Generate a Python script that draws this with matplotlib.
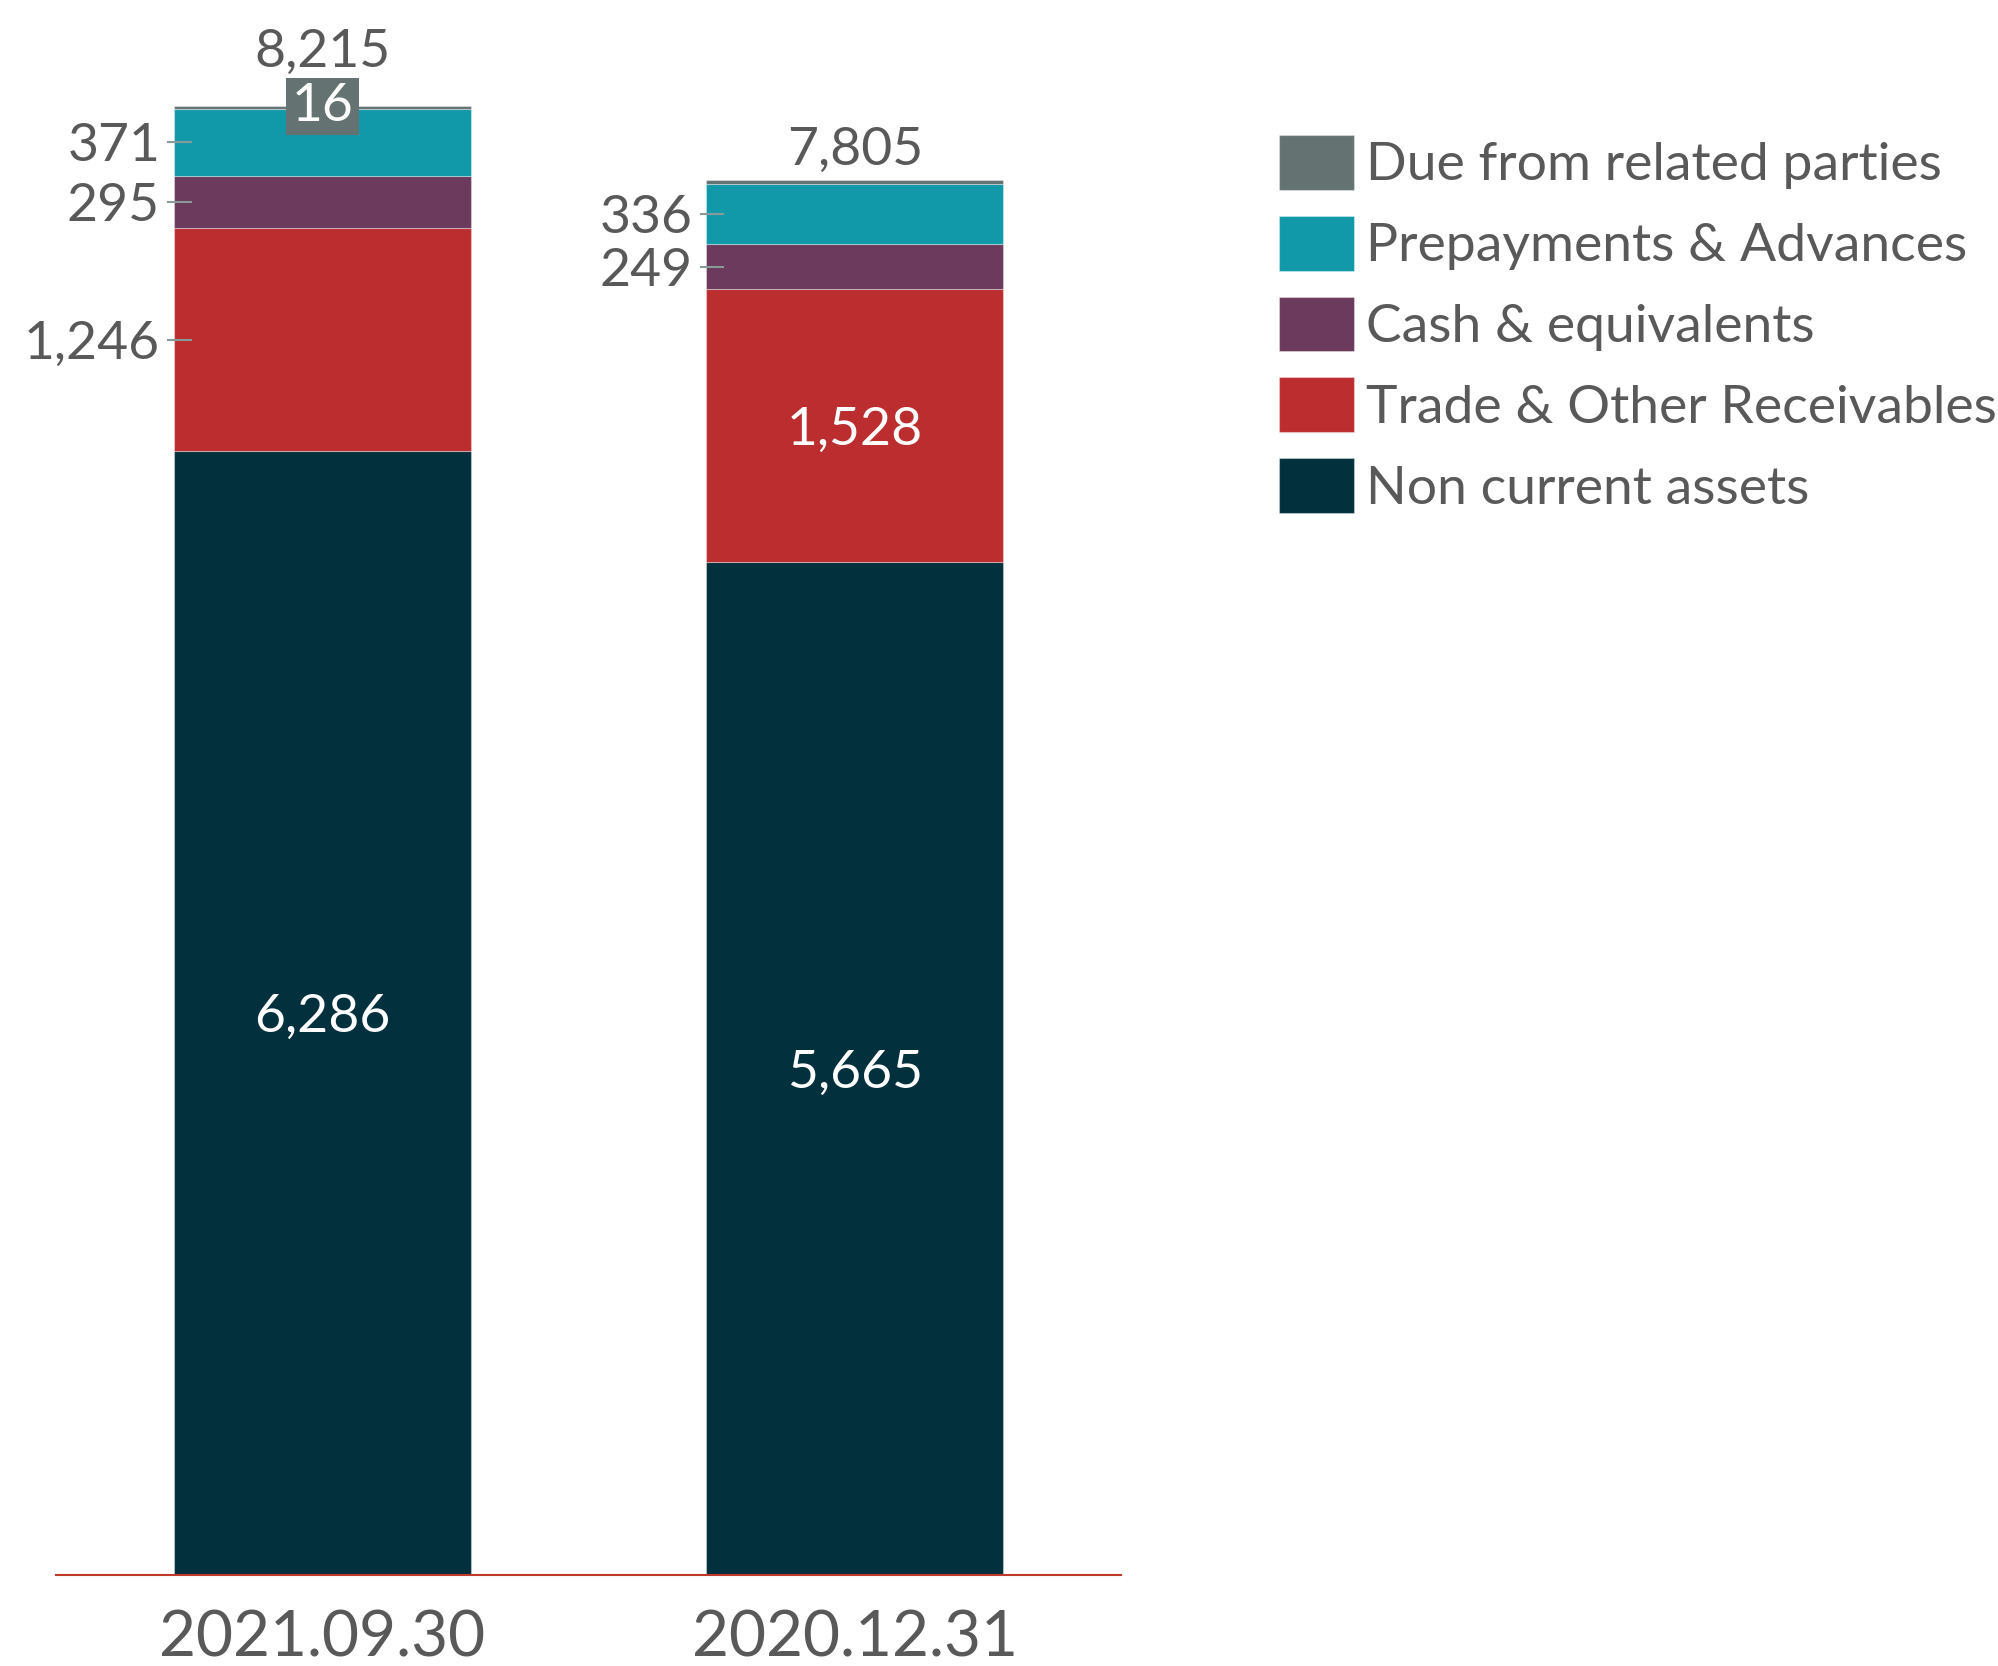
import matplotlib
matplotlib.use("Agg")
import matplotlib.pyplot as plt
import numpy as np

plt.rcParams['font.family'] = ['Lato', 'DejaVu Sans']

categories = ["2021.09.30", "2020.12.31"]
series_names = ["Non current assets", "Trade & Other Receivables", "Cash & equivalents",
                "Prepayments & Advances", "Due from related parties"]
non_current = [6286, 5665]
trade = [1246, 1528]
cash = [295, 249]
prepay = [371, 336]
due = [16, 27]
totals = [8215, 7805]

colors = ["#02303C", "#BB2D2E", "#6B3A5C", "#1199AA", "#647372"]
TXT = "#595959"

fig = plt.figure(figsize=(19.98, 16.66), dpi=100)
ax = fig.add_axes([56/1998, 91/1666, 1065/1998, 1573.4/1666])

x = np.arange(len(categories))
width = 0.557
series = [non_current, trade, cash, prepay, due]
bottoms = np.zeros(len(categories))
bars = []
for vals, name, col in zip(series, series_names, colors):
    b = ax.bar(x, vals, width, bottom=bottoms, color=col, label=name,
               edgecolor=(1, 1, 1, 0.35), linewidth=0.8)
    bars.append((b, np.array(vals, float), bottoms.copy()))
    bottoms = bottoms + np.array(vals, float)

ax.set_xlim(-0.5, 1.5)
ax.set_ylim(0, 8800)

FS = 38.5

modes = {
    0: ['in', 'in'],
    1: ['left', 'in'],
    2: ['left', 'left'],
    3: ['left', 'left'],
    4: ['box', None],
}
for si, (b, vals, bots) in enumerate(bars):
    for i in range(len(categories)):
        m = modes[si][i]
        if m is None:
            continue
        v = vals[i]
        yc = bots[i] + v / 2
        lab = f"{int(v):,}"
        if m == 'in':
            ax.text(x[i], yc, lab, ha='center', va='center_baseline', color='white', fontsize=FS)
        elif m == 'left':
            xl = x[i] - width / 2
            ax.plot([xl - 0.011, xl + 0.032], [yc, yc], color="#8a9a9a", lw=1.5, zorder=3)
            ax.text(xl - 0.026, yc, lab, ha='right', va='center_baseline', color=TXT, fontsize=FS)
        elif m == 'box':
            ax.text(x[i], bots[i] + v, lab, ha='center', va='center', color='white', fontsize=FS,
                    bbox=dict(boxstyle='square,pad=0.1', facecolor=colors[4], edgecolor='none'),
                    zorder=5)

total_offsets = [54, 29.5]
for i, t in enumerate(totals):
    ax.annotate(f"{t:,}", (x[i], t), xytext=(0, total_offsets[i]), textcoords='offset pixels',
                ha='center', va='center', color=TXT, fontsize=FS)

ax.set_xticks(x)
ax.set_xticklabels(categories, fontsize=46, color=TXT)
ax.tick_params(axis='x', length=0, pad=25)
ax.set_yticks([])
for s in ['left', 'right', 'top']:
    ax.spines[s].set_visible(False)
ax.spines['bottom'].set_color("#C0392B")
ax.spines['bottom'].set_linewidth(1.5)

handles, labels = ax.get_legend_handles_labels()
leg = fig.legend(handles[::-1], labels[::-1], loc='upper left',
                 bbox_to_anchor=(1279/1998, 1 - 135/1666), frameon=False,
                 fontsize=FS, labelcolor=TXT, handlelength=1.40, handleheight=1.2,
                 handletextpad=0.22, labelspacing=0.486, borderpad=0, borderaxespad=0)

fig.savefig("out.png", dpi=100)
